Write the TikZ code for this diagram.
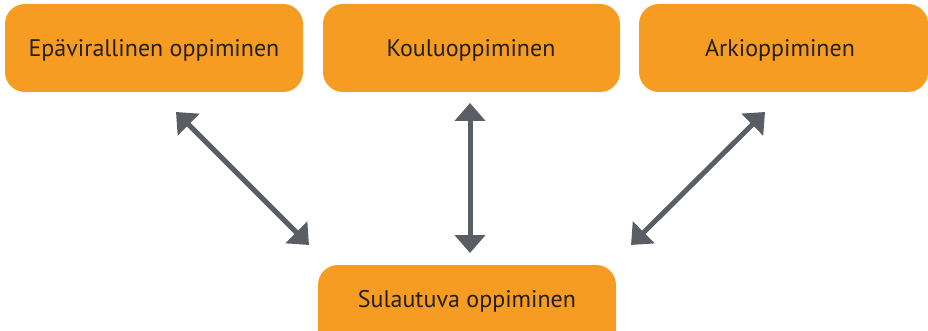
\documentclass[tikz,border=0pt]{standalone}
\usepackage{fontspec}
\setmainfont{PT Sans}
\usetikzlibrary{arrows.meta}
\definecolor{boxorange}{HTML}{F69C22}
\definecolor{arrowgray}{HTML}{5B5D64}
\definecolor{txt}{HTML}{231F20}
\begin{document}
\begin{tikzpicture}[x=1pt,y=1pt,
  box/.style={fill=boxorange, rounded corners=20pt, inner sep=0pt},
  lbl/.style={text=txt, font=\fontsize{24}{28}\selectfont, anchor=center},
  link/.style={draw=arrowgray, line width=5pt,
    {Triangle[width=30pt,length=18pt]}-{Triangle[width=30pt,length=18pt]}}]
\useasboundingbox (0,0) rectangle (928,-331);
\begin{scope}
\clip (0,0) rectangle (928,-331);
\path[box] (5,-4) rectangle (303,-92);
\path[box] (323,-4) rectangle (620,-92);
\path[box] (639,-4) rectangle (928,-92);
\path[box] (318,-265) rectangle (616,-350);
\end{scope}
\node[lbl] (b1) at (154,-50) {Epävirallinen oppiminen};
\node[lbl] (b2) at (471,-50) {Kouluoppiminen};
\node[lbl] (b3) at (780,-50) {Arkioppiminen};
\node[lbl] (b4) at (467,-301) {Sulautuva oppiminen};
\coordinate (a1s) at (176,-112);
\coordinate (a1e) at (309,-245);
\coordinate (a2s) at (470,-103);
\coordinate (a2e) at (470,-253);
\coordinate (a3s) at (765,-112);
\coordinate (a3e) at (631,-245);
\draw[link] (a1s) -- (a1e);
\draw[link] (a2s) -- (a2e);
\draw[link] (a3s) -- (a3e);
\end{tikzpicture}
\end{document}
